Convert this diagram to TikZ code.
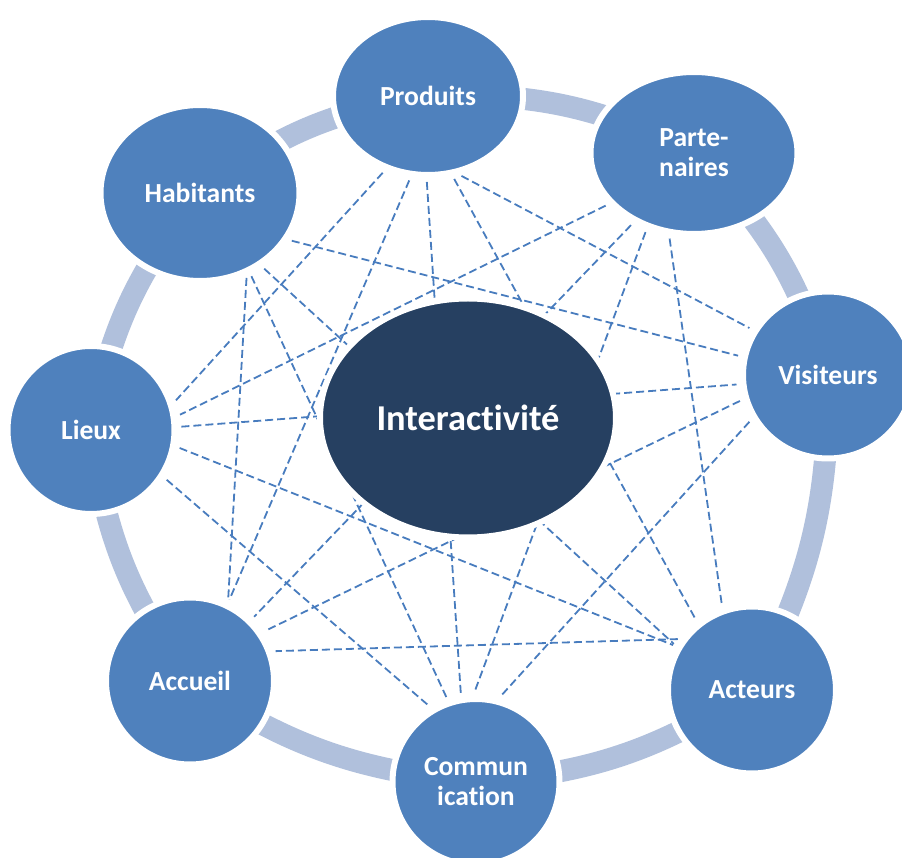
\documentclass[tikz,border=0pt]{standalone}
\usepackage{fontspec}
\setmainfont{Carlito}[Ligatures=NoCommon]
\usetikzlibrary{shapes.geometric, backgrounds}

\definecolor{bubbleblue}{RGB}{79,129,189}
\definecolor{corenavy}{RGB}{38,64,97}
\definecolor{ringgray}{RGB}{176,192,220}
\definecolor{linkblue}{RGB}{72,124,190}

\tikzset{
  bubble/.style = {ellipse, fill = bubbleblue, draw = white, line width = 3pt, inner sep = 0pt,
    text = white, align = center, font = \fontsize{13.8}{15}\selectfont\bfseries},
  ring/.style = {ringgray, line width = 11pt},
  link/.style = {linkblue, line width = 0.9pt, dash pattern = on 4pt off 2pt,
    shorten <= 2pt, shorten >= 2pt}
}

\begin{document}
\begin{tikzpicture}[x = 0.5pt, y = 0.5pt]
\useasboundingbox (0, 0) rectangle (902, 858);

% centre
\node[bubble, fill = corenavy, minimum width = 148pt, minimum height = 119.5pt,
  font = \fontsize{18.2}{20}\selectfont\bfseries] (inter) at (468, 440) {Interactivité};

% outer bubbles, clockwise from the top
\node[bubble, minimum width = 95pt, minimum height = 79pt] (prod) at (428, 762) {Produits};
\node[bubble, minimum width = 103.5pt, minimum height = 81pt] (part) at (694, 705) {Parte-\\naires};
\node[bubble, minimum width = 85pt, minimum height = 83.5pt] (vis) at (828, 483) {Visiteurs};
\node[bubble, minimum width = 84pt, minimum height = 83.5pt] (act) at (752, 168) {Acteurs};
\node[bubble, minimum width = 83.5pt, minimum height = 83pt] (comm) at (476, 76) {Commun\\ication};
\node[bubble, minimum width = 84pt, minimum height = 83.5pt] (acc) at (190, 177) {Accueil};
\node[bubble, minimum width = 83.5pt, minimum height = 84pt] (lieux) at (91, 428) {Lieux};
\node[bubble, minimum width = 99.5pt, minimum height = 88pt] (hab) at (200, 665) {Habitants};

\begin{scope}[on background layer]
% band round the outside
\foreach \a/\b in {hab/prod, prod/part, part/vis, vis/act, act/comm, comm/acc, acc/lieux, lieux/hab}
  \draw[ring] (\a.center) to[bend left = 14] (\b.center);

% dashed cross links
\draw[link] (prod.-120) -- (lieux.18);
\draw[link] (prod.-102) -- (acc.64);
\draw[link] (prod.-91) -- (comm.100);
\draw[link] (prod.-69) -- (vis.149);
\draw[link] (prod.-73) -- (act.129);
\draw[link] (hab.-28) -- (vis.168);
\draw[link] (hab.-50) -- (act.150);
\draw[link] (hab.-58) -- (comm.109);
\draw[link] (hab.-60) -- (acc.64);
\draw[link] (part.-149) -- (lieux.9);
\draw[link] (part.-131) -- (acc.45);
\draw[link] (part.-122) -- (comm.92);
\draw[link] (part.-107) -- (act.110);
\draw[link] (vis.-164) -- (acc.34);
\draw[link] (vis.-150) -- (comm.75);
\draw[link] (lieux.2) -- (vis.186);
\draw[link] (lieux.-11) -- (act.150);
\draw[link] (lieux.-33) -- (comm.121);
\draw[link] (act.144) -- (acc.20);
\end{scope}
\end{tikzpicture}
\end{document}
